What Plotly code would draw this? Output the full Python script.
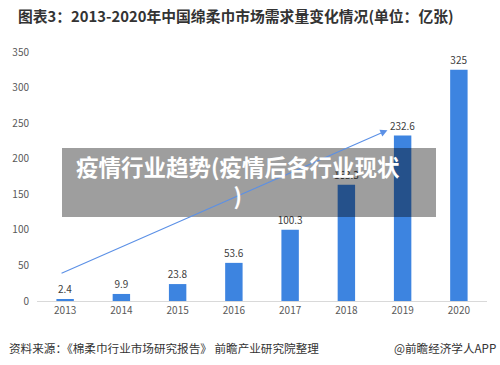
import plotly.graph_objects as go

years = ["2013", "2014", "2015", "2016", "2017", "2018", "2019", "2020"]
demand = [2.4, 9.9, 23.8, 53.6, 100.3, 163.3, 232.6, 325]
y_ticks = [0, 50, 100, 150, 200, 250, 300, 350]

title_text = "图表3：2013-2020年中国绵柔巾市场需求量变化情况(单位：亿张)"
source_text = "资料来源：《棉柔巾行业市场研究报告》 前瞻产业研究院整理"
brand_text = "@前瞻经济学人APP"
overlay_text = "疫情行业趋势(疫情后各行业现状<br>)"

W, H = 500, 365
ML, MR, MT, MB = 37, 13, 52, 64
PW, PH = W - ML - MR, H - MT - MB


def px(x):
    return (x - ML) / PW


def py(y):
    return (H - MB - y) / PH


FONT = "Noto Sans CJK SC"

fig = go.Figure()
fig.add_trace(go.Bar(
    x=years, y=demand,
    marker=dict(color="#3d84e0", line=dict(width=0)),
    text=[f"{v:g}" for v in demand],
    textposition="outside",
    constraintext="none",
    textfont=dict(size=10, color="#404040", family=FONT),
    cliponaxis=False,
    width=0.31,
))

# trend arrow
fig.add_annotation(
    x=5.73, y=240, ax=-0.09, ay=38,
    xref="x", yref="y", axref="x", ayref="y",
    showarrow=True, arrowhead=2, arrowsize=1.3, arrowwidth=1.1,
    arrowcolor="#5b90e6", text="",
)

fig.update_layout(
    width=W, height=H,
    margin=dict(l=ML, r=MR, t=MT, b=MB),
    paper_bgcolor="white", plot_bgcolor="white",
    showlegend=False,
    font=dict(family=FONT),
    xaxis=dict(
        type="category", showline=True, linecolor="#d9d9d9", linewidth=1,
        ticks="", showgrid=False,
        tickfont=dict(size=10, color="#595959"),
        range=[-0.5, 7.5],
    ),
    yaxis=dict(
        range=[0, 350], tickvals=y_ticks, showgrid=False, zeroline=False,
        showline=False, ticks="", ticklabelstandoff=7,
        tickfont=dict(size=10, color="#595959"),
    ),
)

# title
fig.add_annotation(
    x=px(236), y=py(16), xref="paper", yref="paper",
    text="<b>" + title_text + "</b>", showarrow=False,
    font=dict(size=14.8, color="#333333", family=FONT),
    xanchor="center", yanchor="middle",
)
# footer
fig.add_annotation(
    x=px(7), y=py(348), xref="paper", yref="paper",
    text=source_text, showarrow=False,
    font=dict(size=11.6, color="#333333", family=FONT),
    xanchor="left", yanchor="middle",
)
fig.add_annotation(
    x=px(498), y=py(348), xref="paper", yref="paper",
    text=brand_text, showarrow=False,
    font=dict(size=11.6, color="#333333", family=FONT),
    xanchor="right", yanchor="middle",
)

# overlay banner
fig.add_shape(
    type="rect", xref="paper", yref="paper",
    x0=px(62), x1=px(436), y0=py(217), y1=py(148),
    fillcolor="rgba(0,0,0,0.38)", line=dict(width=0), layer="above",
)
fig.add_annotation(
    x=px(238), y=py(180), xref="paper", yref="paper",
    text="<b>" + overlay_text + "</b>", showarrow=False,
    font=dict(size=22.5, color="white", family=FONT),
    xanchor="center", yanchor="middle", align="center",
)

fig.write_html("out.html")
